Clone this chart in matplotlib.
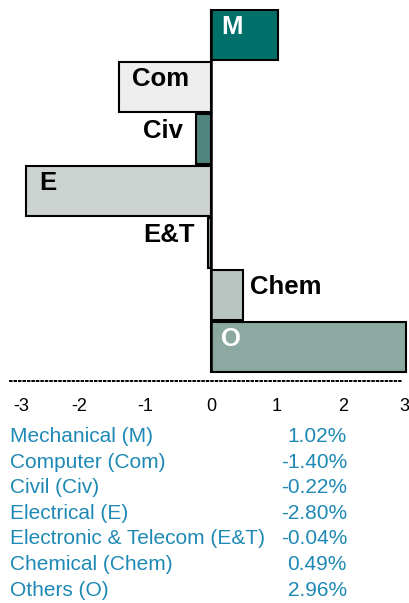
#!/usr/bin/env python3
"""Change by branch: horizontal diverging bars with a legend table below."""
import matplotlib

matplotlib.use("Agg")
import matplotlib.pyplot as plt
import numpy as np

ABBREV = ["M", "Com", "Civ", "E", "E&T", "Chem", "O"]
NAMES = ["Mechanical (M)", "Computer (Com)", "Civil (Civ)", "Electrical (E)",
         "Electronic & Telecom (E&T)", "Chemical (Chem)", "Others (O)"]
VALUES = [1.02, -1.40, -0.22, -2.80, -0.04, 0.49, 2.96]
COLORS = ["#00706a", "#eeeeee", "#4f847e", "#cdd3d0", "#9aa9a5", "#b9c5c1", "#8ba8a1"]
LABEL_COLORS = ["white", "black", "black", "black", "black", "black", "white"]
TICKS = [-3, -2, -1, 0, 1, 2, 3]
TEXT_BLUE = "#1d89b4"

W, H = 409, 603


def main() -> None:
    plt.rcParams["font.family"] = ["Liberation Sans", "DejaVu Sans"]
    fig = plt.figure(figsize=(W / 100, H / 100), dpi=100)
    # axes spans pixel x 13..409 and y 9..381
    ax = fig.add_axes([13 / W, 1 - 381 / H, 396 / W, 372 / H])

    y = np.arange(len(VALUES))
    ax.barh(y, VALUES, height=0.96, color=COLORS, edgecolor="black", linewidth=1.5,
            zorder=2)
    ax.vlines(0, -0.48, len(VALUES) - 0.52, color="black", linewidth=1.8, zorder=3)

    for yi, v, lab, col in zip(y, VALUES, ABBREV, LABEL_COLORS):
        ty = yi - 0.15
        kw = dict(va="center", color=col, fontsize=18.5, fontweight="bold", zorder=4)
        if abs(v) > 0.9:
            # inside the bar
            x0 = 0.15 if v > 0 else v + 0.2
            ax.text(x0, ty, lab, ha="left", **kw)
        elif v > 0:
            ax.text(v + 0.1, ty, lab, ha="left", **kw)
        else:
            ax.text(v - 0.2, ty, lab, ha="right", **kw)

    ax.set_xlim(-3, 3)
    ax.set_ylim(len(VALUES) - 0.35, -0.5)
    ax.set_yticks([])
    ax.set_xticks(TICKS, [str(t) for t in TICKS], fontsize=13)
    ax.tick_params(axis="x", length=0, pad=12)
    labels = ax.get_xticklabels()
    labels[0].set_ha("left")
    labels[-1].set_ha("right")
    for side in ("top", "left", "right"):
        ax.spines[side].set_visible(False)
    ax.spines["bottom"].set_linestyle((0, (0.8, 1.5)))
    ax.spines["bottom"].set_linewidth(1.4)
    ax.spines["bottom"].set_bounds(-3.05, 2.9)
    ax.patch.set_visible(False)

    # legend table
    base = 442
    step = 25.6
    for i, (name, v) in enumerate(zip(NAMES, VALUES)):
        yy = 1 - (base + i * step) / H
        fig.text(10 / W, yy, name, ha="left", va="baseline", fontsize=15,
                 color=TEXT_BLUE)
        fig.text(347 / W, yy, f"{v:.2f}%", ha="right", va="baseline", fontsize=15,
                 color=TEXT_BLUE)

    fig.savefig("out.png", dpi=100)
    plt.close(fig)


if __name__ == "__main__":
    main()
